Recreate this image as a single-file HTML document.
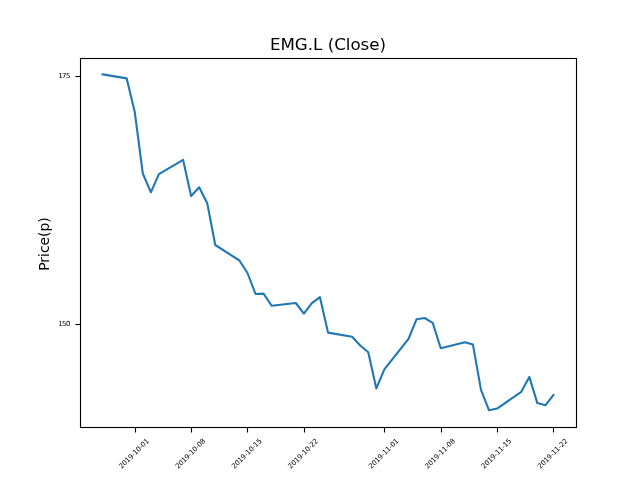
<!DOCTYPE html>
<html lang="en">
<head>
<meta charset="utf-8">
<title>EMG.L (Close)</title>
<style>
html,body{margin:0;padding:0;background:#fff;width:640px;height:480px;overflow:hidden}
svg{display:block}
text{font-family:"DejaVu Sans","Liberation Sans",sans-serif;fill:#000}
.tk{font-size:6.944px;letter-spacing:-0.12px}
.ty{font-size:6.944px;letter-spacing:-0.6px}
</style>
</head>
<body>
<svg width="640" height="480" viewBox="0 0 640 480">
<rect x="0" y="0" width="640" height="480" fill="#ffffff"/>
<polyline points="102.55,74.40 126.70,78.40 134.75,112.00 142.80,173.50 150.86,192.30 158.91,174.20 183.06,159.80 191.12,196.00 199.17,187.30 207.22,203.30 215.27,245.00 239.43,260.50 247.48,273.00 255.53,294.00 263.58,293.60 271.64,305.75 295.79,303.00 303.84,313.70 311.90,303.10 319.95,297.20 328.00,332.60 352.16,336.75 360.21,345.50 368.26,352.30 376.31,388.40 384.36,369.30 408.52,338.80 416.57,319.20 424.62,318.00 432.68,322.80 440.73,348.20 464.88,342.30 472.94,344.60 480.99,389.90 489.04,410.30 497.09,408.60 521.25,391.80 529.30,376.90 537.35,403.10 545.40,405.30 553.46,395.00" fill="none" stroke="#1f77b4" stroke-width="2.083" stroke-linejoin="round" stroke-linecap="square"/>
<rect x="80.5" y="58.5" width="496" height="369" fill="none" stroke="#000" stroke-width="1.111"/>
<g stroke="#000" stroke-width="1.111" fill="none">
<line x1="135.5" y1="427.5" x2="135.5" y2="432.5"/>
<line x1="191.5" y1="427.5" x2="191.5" y2="432.5"/>
<line x1="247.5" y1="427.5" x2="247.5" y2="432.5"/>
<line x1="304.5" y1="427.5" x2="304.5" y2="432.5"/>
<line x1="384.5" y1="427.5" x2="384.5" y2="432.5"/>
<line x1="441.5" y1="427.5" x2="441.5" y2="432.5"/>
<line x1="497.5" y1="427.5" x2="497.5" y2="432.5"/>
<line x1="553.5" y1="427.5" x2="553.5" y2="432.5"/>
<line x1="75.5" y1="76.5" x2="80.5" y2="76.5"/>
<line x1="75.5" y1="324.5" x2="80.5" y2="324.5"/>
</g>
<text class="tk" x="133.85" y="453.5" text-anchor="middle" dy="2.5" transform="rotate(-45 133.85 453.5)">2019-10-01</text>
<text class="tk" x="190.22" y="453.5" text-anchor="middle" dy="2.5" transform="rotate(-45 190.22 453.5)">2019-10-08</text>
<text class="tk" x="246.58" y="453.5" text-anchor="middle" dy="2.5" transform="rotate(-45 246.58 453.5)">2019-10-15</text>
<text class="tk" x="302.94" y="453.5" text-anchor="middle" dy="2.5" transform="rotate(-45 302.94 453.5)">2019-10-22</text>
<text class="tk" x="383.46" y="453.5" text-anchor="middle" dy="2.5" transform="rotate(-45 383.46 453.5)">2019-11-01</text>
<text class="tk" x="439.83" y="453.5" text-anchor="middle" dy="2.5" transform="rotate(-45 439.83 453.5)">2019-11-08</text>
<text class="tk" x="496.19" y="453.5" text-anchor="middle" dy="2.5" transform="rotate(-45 496.19 453.5)">2019-11-15</text>
<text class="tk" x="552.56" y="453.5" text-anchor="middle" dy="2.5" transform="rotate(-45 552.56 453.5)">2019-11-22</text>
<text class="ty" x="69.75" y="76.5" text-anchor="end" dy="1.5">175</text>
<text class="ty" x="69.75" y="324.5" text-anchor="end" dy="1.5">150</text>
<text x="328" y="50" text-anchor="middle" font-size="16.667px">EMG.L (Close)</text>
<text x="48.5" y="244" text-anchor="middle" font-size="13.889px" transform="rotate(-90 48.5 244)">Price(p)</text>
</svg>
</body>
</html>
